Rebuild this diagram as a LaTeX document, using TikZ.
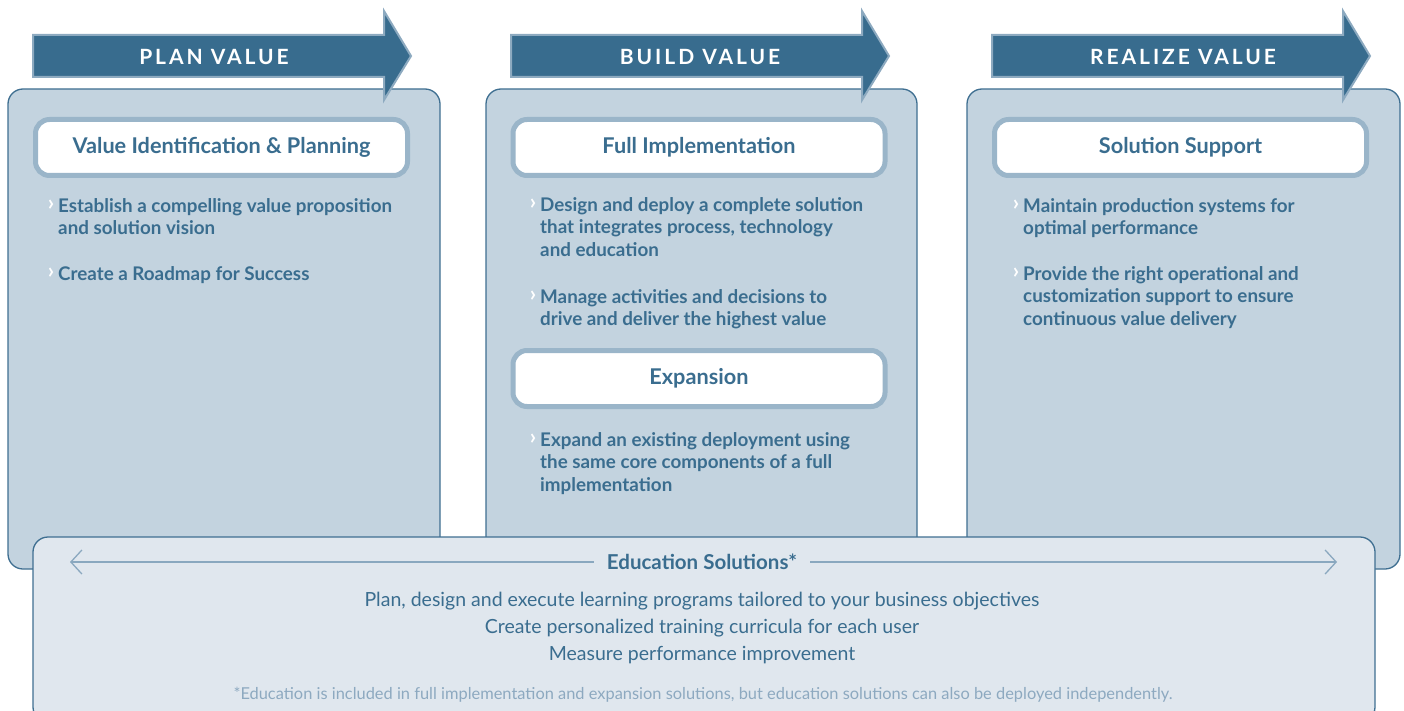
\documentclass[tikz,border=0pt]{standalone}
\usepackage{fontspec}
\setmainfont{Lato}
\usetikzlibrary{arrows.meta}
\definecolor{dblue}{HTML}{3A6D8F}
\definecolor{arrowfill}{HTML}{386C8E}
\definecolor{arrowedge}{HTML}{8DAAC0}
\definecolor{panelfill}{HTML}{C3D3DF}
\definecolor{paneledge}{HTML}{3F6F91}
\definecolor{titleedge}{HTML}{9AB5C9}
\definecolor{botfill}{HTML}{E0E7EE}
\definecolor{lineblue}{HTML}{8AA8BF}
\definecolor{footblue}{HTML}{8DA9C0}
\newcommand{\bul}{\llap{\raisebox{1.5pt}{\textcolor{white}{\fontsize{22}{22}\selectfont\bfseries ›}}\hspace{4pt}}}
\tikzset{
  panel/.style={fill=panelfill, draw=paneledge, line width=1.3pt, rounded corners=15pt},
  phase/.style={fill=arrowfill, draw=arrowedge, line width=2pt},
  phasetext/.style={text=white, font=\fontsize{21}{21}\selectfont\bfseries\addfontfeatures{LetterSpace=14}},
  titlebox/.style={draw=titleedge, fill=white, line width=5pt, rounded corners=14pt,
     minimum width=372pt, minimum height=56pt, text=dblue, font=\fontsize{21.7}{21.7}\selectfont\bfseries},
  bullettext/.style={anchor=north west, inner sep=0pt, align=left, text=dblue,
     font=\fontsize{18.8}{22.7}\selectfont\bfseries},
  botline/.style={text=dblue, font=\fontsize{19.5}{19.5}\selectfont},
  footnote/.style={text=footblue, font=\fontsize{16.4}{16.4}\selectfont},
  eduarrow/.style={draw=lineblue, line width=1.3pt, -{Straight Barb[length=11pt,width=24pt,line width=1.3pt]}}
}
\begin{document}
\begin{tikzpicture}[x=1pt,y=-1pt]
\useasboundingbox (0,0) rectangle (1404,711);
\clip (0,0) rectangle (1404,711);

% panels
\draw[panel] (8,89) rectangle (440,569);
\draw[panel] (486,89) rectangle (917,569);
\draw[panel] (967,89) rectangle (1400,569);

% phase arrows
\draw[phase] (33,35) -- (384,35) -- (384,11) -- (411,56) -- (384,100) -- (384,77) -- (33,77) -- cycle;
\draw[phase] (511,35) -- (862,35) -- (862,11) -- (889,56) -- (862,100) -- (862,77) -- (511,77) -- cycle;
\draw[phase] (992,35) -- (1343,35) -- (1343,11) -- (1370,56) -- (1343,100) -- (1343,77) -- (992,77) -- cycle;
\node[phasetext] (plan) at (214,57) {PLAN VALUE};
\node[phasetext] (build) at (700,57) {BUILD VALUE};
\node[phasetext] (realize) at (1183,57) {REALIZE VALUE};

% title boxes
\node[titlebox] (t1) at (221.5,147.5) {Value Identification \& Planning};
\node[titlebox] (t2) at (699,147.5) {Full Implementation};
\node[titlebox] (t3) at (699,378.5) {Expansion};
\node[titlebox] (t4) at (1180.5,147.5) {Solution Support};

% bullets panel 1
\node[bullettext] (b11) at (58,198) {\bul Establish a compelling value proposition\\and solution vision};
\node[bullettext] (b12) at (58,266) {\bul Create a Roadmap for Success};
% panel 2
\node[bullettext] (b21) at (540,197) {\bul Design and deploy a complete solution\\that integrates process, technology\\and education};
\node[bullettext] (b22) at (540,289) {\bul Manage activities and decisions to\\drive and deliver the highest value};
\node[bullettext] (b23) at (540,432) {\bul Expand an existing deployment using\\the same core components of a full\\implementation};
% panel 3
\node[bullettext] (b31) at (1023,198) {\bul Maintain production systems for\\optimal performance};
\node[bullettext] (b32) at (1023,266) {\bul Provide the right operational and\\customization support to ensure\\continuous value delivery};

% bottom box
\draw[panel, fill=botfill] (33,537) rectangle (1375,722);
\node[text=dblue, font=\fontsize{20.5}{20.5}\selectfont\bfseries, inner xsep=13pt] (edu) at (702,562) {Education Solutions*};
\coordinate (eduL) at (70,562);
\coordinate (eduR) at (1337,562);
\draw[eduarrow] (edu.west) -- (eduL);
\draw[eduarrow] (edu.east) -- (eduR);
\node[botline] (l1) at (702,601) {Plan, design and execute learning programs tailored to your business objectives};
\node[botline] (l2) at (702,628) {Create personalized training curricula for each user};
\node[botline] (l3) at (702,655) {Measure performance improvement};
\node[footnote] (fn) at (703,695) {*Education is included in full implementation and expansion solutions, but education solutions can also be deployed independently.};
\end{tikzpicture}
\end{document}
